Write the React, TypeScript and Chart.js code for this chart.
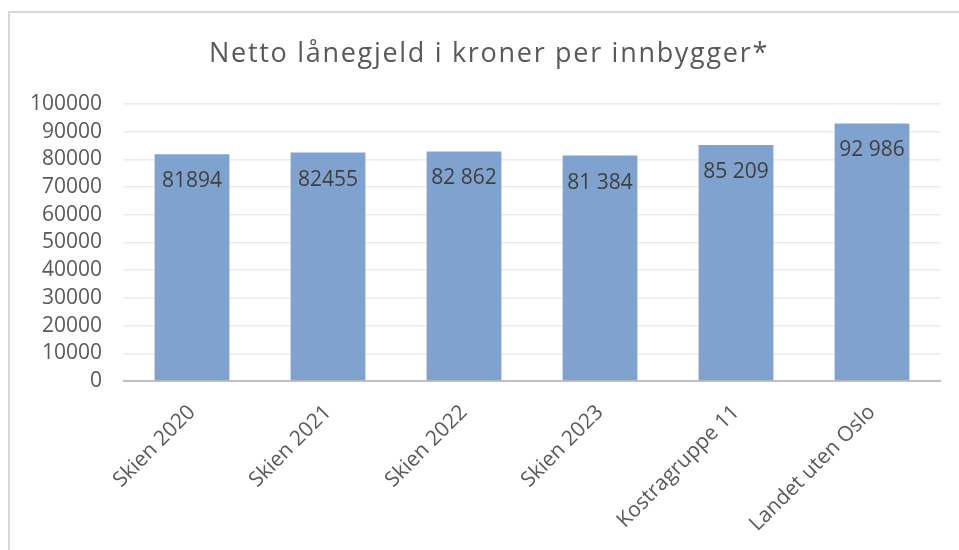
import React, { useEffect, useRef } from "react";
import { Chart, registerables } from "chart.js";

Chart.register(...registerables);

const categories = ["Skien 2020", "Skien 2021", "Skien 2022", "Skien 2023", "Kostragruppe 11", "Landet uten Oslo"];
const values = [81894, 82455, 82862, 81384, 85209, 92986];
const valueLabels = ["81894", "82455", "82 862", "81 384", "85 209", "92 986"];
const titleText = "Netto lånegjeld i kroner per innbygger*";

const FONT = "'Open Sans', sans-serif";

const framePlugin = {
  id: "frame",
  beforeDraw(chart: any) {
    const ctx = chart.ctx;
    ctx.save();
    ctx.fillStyle = "#ffffff";
    ctx.fillRect(0, 0, chart.width, chart.height);
    ctx.strokeStyle = "#d9d9d9";
    ctx.lineWidth = 2;
    ctx.beginPath();
    ctx.moveTo(9, chart.height + 2);
    ctx.lineTo(9, 12);
    ctx.lineTo(chart.width + 2, 12);
    ctx.stroke();
    ctx.restore();
  },
};

const titlePlugin = {
  id: "spacedTitle",
  afterDraw(chart: any) {
    const ctx = chart.ctx;
    ctx.save();
    ctx.font = `27px ${FONT}`;
    (ctx as any).letterSpacing = "1.7px";
    ctx.fillStyle = "#595959";
    ctx.textAlign = "center";
    ctx.textBaseline = "alphabetic";
    ctx.fillText(titleText, 489, 62);
    ctx.restore();
  },
};

const labelPlugin = {
  id: "valueLabels",
  afterDatasetsDraw(chart: any) {
    const ctx = chart.ctx;
    const meta = chart.getDatasetMeta(0);
    ctx.save();
    ctx.font = `21px ${FONT}`;
    ctx.fillStyle = "#404040";
    ctx.textAlign = "center";
    ctx.textBaseline = "middle";
    meta.data.forEach((bar: any, i: number) => {
      ctx.fillText(valueLabels[i], bar.x, bar.y + 27);
    });
    ctx.restore();
  },
};

export default function App() {
  const ref = useRef<HTMLCanvasElement | null>(null);
  useEffect(() => {
    if (!ref.current) return;
    const chart = new Chart(ref.current, {
      type: "bar",
      data: {
        labels: categories,
        datasets: [
          {
            data: values,
            backgroundColor: "#7FA3CE",
            barPercentage: 0.55,
            categoryPercentage: 1,
          },
        ],
      },
      options: {
        animation: false,
        responsive: false,
        maintainAspectRatio: false,
        layout: { padding: { left: 0, right: 19, top: 104, bottom: 0 } },
        plugins: {
          legend: { display: false },
          tooltip: { enabled: false },
          title: { display: false },
        },
        scales: {
          x: {
            grid: { drawOnChartArea: false, drawTicks: false },
            border: { display: true, color: "#bfbfbf", width: 2 },
            ticks: {
              color: "#595959",
              font: { family: FONT, size: 21 },
              minRotation: 45,
              maxRotation: 45,
              autoSkip: false,
              padding: 19,
            },
            afterFit(scale: any) {
              scale.height = 169;
            },
          },
          y: {
            min: 0,
            max: 100000,
            grid: { color: "#ebebeb", lineWidth: 1.5, drawTicks: false },
            border: { display: false },
            ticks: {
              stepSize: 10000,
              autoSkip: false,
              color: "#595959",
              font: { family: FONT, size: 21 },
              padding: 22,
              callback: (v: any) => String(v),
            },
            afterFit(scale: any) {
              scale.width = 124;
            },
          },
        },
      },
      plugins: [framePlugin, labelPlugin, titlePlugin],
    });
    return () => chart.destroy();
  }, []);
  return (
    <div style={{ position: "fixed", left: 0, top: 0, width: 959, height: 550 }}>
      <canvas ref={ref} width={959} height={550} style={{ width: 959, height: 550, display: "block" }} />
    </div>
  );
}
